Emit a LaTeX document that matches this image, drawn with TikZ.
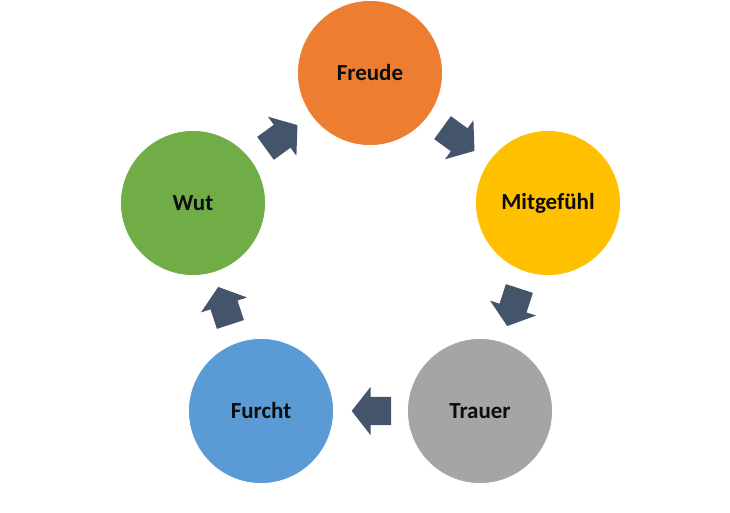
\documentclass[tikz,border=0pt]{standalone}
\usepackage{fontspec}
\setmainfont{Carlito}
\usepackage{tikz}
\usetikzlibrary{shapes.arrows}
\definecolor{orng}{HTML}{ED7D31}
\definecolor{gold}{HTML}{FFC000}
\definecolor{grey}{HTML}{A5A5A5}
\definecolor{blu}{HTML}{5B9BD5}
\definecolor{grn}{HTML}{70AD47}
\definecolor{slate}{HTML}{44546A}

\begin{document}
\begin{tikzpicture}[x=1pt,y=-1pt,
  c/.style={circle,fill=#1,draw=white,line width=0.8pt,minimum size=145pt,inner sep=0pt,font=\fontsize{23}{27}\selectfont\bfseries,text=black!95},
  ar/.style={single arrow,fill=slate,draw=none,minimum height=39pt,minimum width=48pt,inner sep=14pt,single arrow head extend=10pt,single arrow tip angle=104,rotate=#1}]
  \useasboundingbox (0,0) rectangle (730,513);
  \node[c=orng] (fr) at (370,73)  {Freude};
  \node[c=gold] (mi) at (548,203) {Mitgefühl};
  \node[c=grey] (tr) at (480,411) {Trauer};
  \node[c=blu]  (fu) at (261,411) {Furcht};
  \node[c=grn]  (wu) at (193,203) {Wut};
  \node[ar=-36]  (a1) at (454,136) {};
  \node[ar=-108] (a2) at (515,302) {};
  \node[ar=180]  (a3) at (377,411) {};
  \node[ar=108]  (a4) at (226,311) {};
  \node[ar=36]   (a5) at (277,140) {};
\end{tikzpicture}
\end{document}
